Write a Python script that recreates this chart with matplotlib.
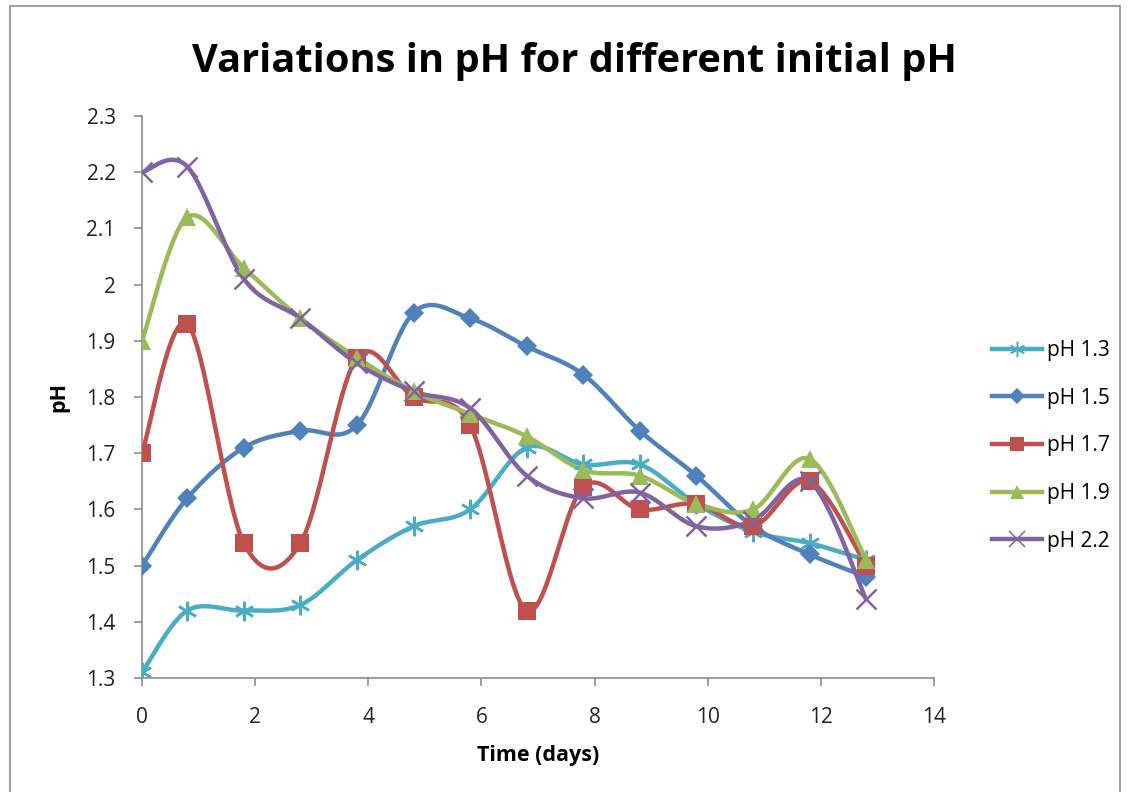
import numpy as np
import matplotlib
matplotlib.use('Agg')
import matplotlib.pyplot as plt
from matplotlib.patches import Rectangle

days = [0, 0.8, 1.8, 2.8, 3.8, 4.8, 5.8, 6.8, 7.8, 8.8, 9.8, 10.8, 11.8, 12.8]
ph13 = [1.31, 1.42, 1.42, 1.43, 1.51, 1.57, 1.60, 1.71, 1.68, 1.68, 1.61, 1.56, 1.54, 1.51]
ph15 = [1.50, 1.62, 1.71, 1.74, 1.75, 1.95, 1.94, 1.89, 1.84, 1.74, 1.66, 1.57, 1.52, 1.48]
ph17 = [1.70, 1.93, 1.54, 1.54, 1.87, 1.80, 1.75, 1.42, 1.64, 1.60, 1.61, 1.57, 1.65, 1.50]
ph19 = [1.90, 2.12, 2.03, 1.94, 1.87, 1.81, 1.77, 1.73, 1.67, 1.66, 1.61, 1.60, 1.69, 1.51]
ph22 = [2.20, 2.21, 2.01, 1.94, 1.86, 1.81, 1.78, 1.66, 1.62, 1.63, 1.57, 1.58, 1.65, 1.44]
labels = ['pH 1.3', 'pH 1.5', 'pH 1.7', 'pH 1.9', 'pH 2.2']
colors = ['#4BACC6', '#4F81BD', '#C0504D', '#9BBB59', '#8064A2']
markers = [(6, 2, 0), 'D', 's', '^', 'x']


def smooth(x, y, n=30):
    # excel-like smoothing: bezier with catmull-rom control points
    x = np.asarray(x, float)
    y = np.asarray(y, float)
    px = np.concatenate([[x[0]], x, [x[-1]]])
    py = np.concatenate([[y[0]], y, [y[-1]]])
    t = np.linspace(0, 1, n)
    xs, ys = [], []
    for i in range(len(x) - 1):
        p0 = np.array([px[i + 1], py[i + 1]])
        p3 = np.array([px[i + 2], py[i + 2]])
        c1 = p0 + (np.array([px[i + 2], py[i + 2]]) - np.array([px[i], py[i]])) / 6
        c2 = p3 - (np.array([px[i + 3], py[i + 3]]) - np.array([px[i + 1], py[i + 1]])) / 6
        b = ((1 - t) ** 3)[:, None] * p0 + (3 * (1 - t) ** 2 * t)[:, None] * c1 \
            + (3 * (1 - t) * t ** 2)[:, None] * c2 + (t ** 3)[:, None] * p3
        xs.extend(b[:, 0])
        ys.extend(b[:, 1])
    return xs, ys


plt.rcParams['font.family'] = ['Open Sans', 'DejaVu Sans']
fig = plt.figure(figsize=(11.29, 7.92), dpi=100)
ax = fig.add_axes([0.1258, 0.1439, 0.7015, 0.7096])

series = [ph13, ph15, ph17, ph19, ph22]
msizes = [14, 10, 13, 13, 14]
handles = []
for vals, lab, c, m, ms in zip(series, labels, colors, markers, msizes):
    sx, sy = smooth(days, vals)
    ax.plot(sx, sy, color=c, lw=3.2, solid_capstyle='round', zorder=2)
    mew = 1.8 if m in ((6, 2, 0), 'x') else 0
    ax.plot(days, vals, ls='none', marker=m, ms=ms, color=c, mew=mew, zorder=3)
    h, = ax.plot([], [], color=c, lw=3.2, marker=m, ms=ms * 0.8, mew=mew * 0.6)
    handles.append(h)

ax.set_xlim(0, 14)
ax.set_ylim(1.3, 2.3)
ax.set_xticks(np.arange(0, 15, 2))
ax.set_yticks(np.arange(1.3, 2.31, 0.1))
ax.set_yticklabels(['1.3', '1.4', '1.5', '1.6', '1.7', '1.8', '1.9', '2', '2.1', '2.2', '2.3'])
for s in ['top', 'right']:
    ax.spines[s].set_visible(False)
for s in ['left', 'bottom']:
    ax.spines[s].set_color('#8c8c8c')
    ax.spines[s].set_linewidth(1.2)
ax.tick_params(colors='#8c8c8c', labelcolor='#222222', labelsize=15, length=6, width=1.2)
ax.tick_params(axis='y', pad=13)
ax.tick_params(axis='x', pad=15)
ax.set_xlabel('Time (days)', fontsize=15.5, fontweight='bold', labelpad=12)
ax.set_ylabel('pH', fontsize=15.5, fontweight='bold', labelpad=12)

fig.text(0.509, 0.922, 'Variations in pH for different initial pH', ha='center', va='center',
         fontsize=28.6, fontweight='bold')

fig.legend(handles, labels, loc='center left', bbox_to_anchor=(0.862, 0.437), frameon=False,
           fontsize=15, handlelength=2.4, labelspacing=1.28, handletextpad=0.25)

fig.patches.append(Rectangle((0.009, -0.02), 0.983, 1.013, transform=fig.transFigure,
                             fill=False, edgecolor='#8c8c8c', lw=1.2))

fig.savefig('out.png', dpi=100)
